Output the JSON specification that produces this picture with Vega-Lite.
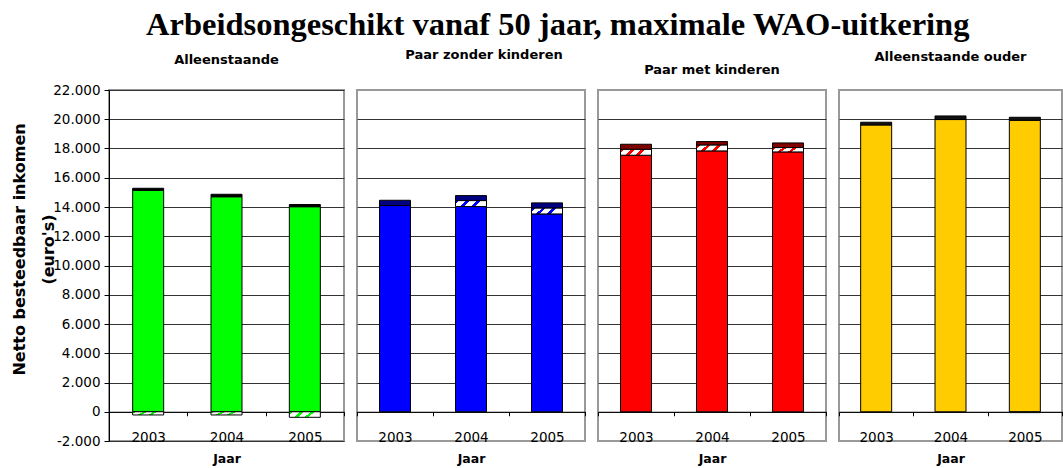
{
  "$schema": "https://vega.github.io/schema/vega-lite/v6.json",
  "background": "white",
  "padding": {"left": 10, "top": 8, "right": 0, "bottom": 0},
  "title": {"text": "Arbeidsongeschikt vanaf 50 jaar, maximale WAO-uitkering", "font": "Liberation Serif", "fontSize": 32.5, "fontWeight": "bold", "color": "#000", "anchor": "middle", "offset": 7, "dx": 21},
  "data": {"values": [
    {"panel": "Alleenstaande", "jaar": "2003", "comp": "basis", "waarde": 15140},
    {"panel": "Alleenstaande", "jaar": "2003", "comp": "rest", "waarde": 140},
    {"panel": "Alleenstaande", "jaar": "2003", "comp": "mutatie", "waarde": -220},
    {"panel": "Alleenstaande", "jaar": "2004", "comp": "basis", "waarde": 14700},
    {"panel": "Alleenstaande", "jaar": "2004", "comp": "rest", "waarde": 170},
    {"panel": "Alleenstaande", "jaar": "2004", "comp": "mutatie", "waarde": -220},
    {"panel": "Alleenstaande", "jaar": "2005", "comp": "basis", "waarde": 14020},
    {"panel": "Alleenstaande", "jaar": "2005", "comp": "rest", "waarde": 150},
    {"panel": "Alleenstaande", "jaar": "2005", "comp": "mutatie", "waarde": -380},
    {"panel": "Paar zonder kinderen", "jaar": "2003", "comp": "basis", "waarde": 14100},
    {"panel": "Paar zonder kinderen", "jaar": "2003", "comp": "rest", "waarde": 360},
    {"panel": "Paar zonder kinderen", "jaar": "2004", "comp": "basis", "waarde": 14030},
    {"panel": "Paar zonder kinderen", "jaar": "2004", "comp": "mutatie", "waarde": 410},
    {"panel": "Paar zonder kinderen", "jaar": "2004", "comp": "rest", "waarde": 340},
    {"panel": "Paar zonder kinderen", "jaar": "2005", "comp": "basis", "waarde": 13525},
    {"panel": "Paar zonder kinderen", "jaar": "2005", "comp": "mutatie", "waarde": 410},
    {"panel": "Paar zonder kinderen", "jaar": "2005", "comp": "rest", "waarde": 345},
    {"panel": "Paar met kinderen", "jaar": "2003", "comp": "basis", "waarde": 17540},
    {"panel": "Paar met kinderen", "jaar": "2003", "comp": "mutatie", "waarde": 410},
    {"panel": "Paar met kinderen", "jaar": "2003", "comp": "rest", "waarde": 340},
    {"panel": "Paar met kinderen", "jaar": "2004", "comp": "basis", "waarde": 17835},
    {"panel": "Paar met kinderen", "jaar": "2004", "comp": "mutatie", "waarde": 410},
    {"panel": "Paar met kinderen", "jaar": "2004", "comp": "rest", "waarde": 230},
    {"panel": "Paar met kinderen", "jaar": "2005", "comp": "basis", "waarde": 17765},
    {"panel": "Paar met kinderen", "jaar": "2005", "comp": "mutatie", "waarde": 300},
    {"panel": "Paar met kinderen", "jaar": "2005", "comp": "rest", "waarde": 315},
    {"panel": "Alleenstaande ouder", "jaar": "2003", "comp": "basis", "waarde": 19610},
    {"panel": "Alleenstaande ouder", "jaar": "2003", "comp": "rest", "waarde": 185},
    {"panel": "Alleenstaande ouder", "jaar": "2004", "comp": "basis", "waarde": 19980},
    {"panel": "Alleenstaande ouder", "jaar": "2004", "comp": "rest", "waarde": 245},
    {"panel": "Alleenstaande ouder", "jaar": "2005", "comp": "basis", "waarde": 19930},
    {"panel": "Alleenstaande ouder", "jaar": "2005", "comp": "rest", "waarde": 205},
    {"panel": "Alleenstaande ouder", "jaar": "2005", "comp": "mutatie", "waarde": -60}
  ]},
  "spacing": 9,
  "hconcat": [
    {
      "width": 235, "height": 351,
      "title": {"text": "Alleenstaande", "anchor": "middle", "frame": "group", "baseline": "bottom", "offset": 3},
      "transform": [{"filter": "datum.panel === 'Alleenstaande'"}],
      "mark": {"type": "bar", "size": 31, "stroke": "#000", "strokeWidth": 1},
      "encoding": {
        "x": {"field": "jaar", "type": "ordinal", "scale": {"paddingInner": 0, "paddingOuter": 0},
          "axis": {"title": "Jaar", "titleFontSize": 12.5, "labelAngle": 0, "offset": -29.25, "tickBand": "extent", "tickSize": 4, "labelPadding": 15, "titlePadding": 8}},
        "y": {"field": "waarde", "type": "quantitative", "stack": "zero", "scale": {"domain": [-2000, 22000], "nice": false, "zero": false},
          "axis": {"values": [-2000, 0, 2000, 4000, 6000, 8000, 10000, 12000, 14000, 16000, 18000, 20000, 22000],
            "labelExpr": "replace(replace(format(datum.value, ','), ',', '.'), '\u2212', '-')",
            "title": ["Netto besteedbaar inkomen", "(euro's)"], "titleFontSize": 16, "titleLineHeight": 29,
            "titleY": 159, "titleX": -90, "titleAngle": -90, "titleBaseline": "middle", "titleAlign": "center",
            "tickSize": 5, "labelPadding": 4, "grid": true}},
        "detail": {"field": "comp"},
        "order": {"field": "comp", "sort": "ascending"},
        "fill": {"condition": [
          {"test": "datum.comp === 'mutatie'", "value": {"gradient": "linear", "x1": 0, "y1": 0, "x2": 1, "y2": 0.2, "stops": [
            {"offset": 0, "color": "#00ff00"}, {"offset": 0.12, "color": "#00ff00"}, {"offset": 0.12, "color": "#fff"}, {"offset": 0.33, "color": "#fff"},
            {"offset": 0.33, "color": "#00ff00"}, {"offset": 0.45, "color": "#00ff00"}, {"offset": 0.45, "color": "#fff"}, {"offset": 0.66, "color": "#fff"},
            {"offset": 0.66, "color": "#00ff00"}, {"offset": 0.78, "color": "#00ff00"}, {"offset": 0.78, "color": "#fff"}, {"offset": 1, "color": "#fff"}]}},
          {"test": "datum.comp === 'rest'", "value": "#000"}], "value": "#00ff00"}
      }
    },
    {
      "width": 228, "height": 351,
      "title": {"text": "Paar zonder kinderen", "anchor": "middle", "frame": "group", "baseline": "bottom", "offset": 15, "dx": 13},
      "transform": [{"filter": "datum.panel === 'Paar zonder kinderen'"}],
      "mark": {"type": "bar", "size": 31, "stroke": "#000", "strokeWidth": 1},
      "encoding": {
        "x": {"field": "jaar", "type": "ordinal", "scale": {"paddingInner": 0, "paddingOuter": 0},
          "axis": {"title": "Jaar", "titleFontSize": 12.5, "labelAngle": 0, "offset": -29.25, "tickBand": "extent", "tickSize": 4, "labelPadding": 15, "titlePadding": 8}},
        "y": {"field": "waarde", "type": "quantitative", "stack": "zero", "scale": {"domain": [-2000, 22000], "nice": false, "zero": false},
          "axis": {"values": [0, 2000, 4000, 6000, 8000, 10000, 12000, 14000, 16000, 18000, 20000], "labels": false, "ticks": false, "domain": false, "title": null, "grid": true}},
        "detail": {"field": "comp"},
        "order": {"field": "comp", "sort": "ascending"},
        "fill": {"condition": [
          {"test": "datum.comp === 'mutatie'", "value": {"gradient": "linear", "x1": 0, "y1": 0, "x2": 1, "y2": 0.2, "stops": [
            {"offset": 0, "color": "#0000ff"}, {"offset": 0.12, "color": "#0000ff"}, {"offset": 0.12, "color": "#fff"}, {"offset": 0.33, "color": "#fff"},
            {"offset": 0.33, "color": "#0000ff"}, {"offset": 0.45, "color": "#0000ff"}, {"offset": 0.45, "color": "#fff"}, {"offset": 0.66, "color": "#fff"},
            {"offset": 0.66, "color": "#0000ff"}, {"offset": 0.78, "color": "#0000ff"}, {"offset": 0.78, "color": "#fff"}, {"offset": 1, "color": "#fff"}]}},
          {"test": "datum.comp === 'rest'", "value": "#000080"}], "value": "#0000ff"}
      }
    },
    {
      "width": 228, "height": 351,
      "title": {"text": "Paar met kinderen", "anchor": "middle", "frame": "group", "baseline": "bottom", "offset": 0},
      "transform": [{"filter": "datum.panel === 'Paar met kinderen'"}],
      "mark": {"type": "bar", "size": 31, "stroke": "#000", "strokeWidth": 1},
      "encoding": {
        "x": {"field": "jaar", "type": "ordinal", "scale": {"paddingInner": 0, "paddingOuter": 0},
          "axis": {"title": "Jaar", "titleFontSize": 12.5, "labelAngle": 0, "offset": -29.25, "tickBand": "extent", "tickSize": 4, "labelPadding": 15, "titlePadding": 8}},
        "y": {"field": "waarde", "type": "quantitative", "stack": "zero", "scale": {"domain": [-2000, 22000], "nice": false, "zero": false},
          "axis": {"values": [0, 2000, 4000, 6000, 8000, 10000, 12000, 14000, 16000, 18000, 20000], "labels": false, "ticks": false, "domain": false, "title": null, "grid": true}},
        "detail": {"field": "comp"},
        "order": {"field": "comp", "sort": "ascending"},
        "fill": {"condition": [
          {"test": "datum.comp === 'mutatie'", "value": {"gradient": "linear", "x1": 0, "y1": 0, "x2": 1, "y2": 0.2, "stops": [
            {"offset": 0, "color": "#ff0000"}, {"offset": 0.12, "color": "#ff0000"}, {"offset": 0.12, "color": "#fff"}, {"offset": 0.33, "color": "#fff"},
            {"offset": 0.33, "color": "#ff0000"}, {"offset": 0.45, "color": "#ff0000"}, {"offset": 0.45, "color": "#fff"}, {"offset": 0.66, "color": "#fff"},
            {"offset": 0.66, "color": "#ff0000"}, {"offset": 0.78, "color": "#ff0000"}, {"offset": 0.78, "color": "#fff"}, {"offset": 1, "color": "#fff"}]}},
          {"test": "datum.comp === 'rest'", "value": "#800000"}], "value": "#ff0000"}
      }
    },
    {
      "width": 223, "height": 351,
      "title": {"text": "Alleenstaande ouder", "anchor": "middle", "frame": "group", "baseline": "bottom", "offset": 13},
      "transform": [{"filter": "datum.panel === 'Alleenstaande ouder'"}],
      "mark": {"type": "bar", "size": 31, "stroke": "#000", "strokeWidth": 1},
      "encoding": {
        "x": {"field": "jaar", "type": "ordinal", "scale": {"paddingInner": 0, "paddingOuter": 0},
          "axis": {"title": "Jaar", "titleFontSize": 12.5, "labelAngle": 0, "offset": -29.25, "tickBand": "extent", "tickSize": 4, "labelPadding": 15, "titlePadding": 8}},
        "y": {"field": "waarde", "type": "quantitative", "stack": "zero", "scale": {"domain": [-2000, 22000], "nice": false, "zero": false},
          "axis": {"values": [0, 2000, 4000, 6000, 8000, 10000, 12000, 14000, 16000, 18000, 20000], "labels": false, "ticks": false, "domain": false, "title": null, "grid": true}},
        "detail": {"field": "comp"},
        "order": {"field": "comp", "sort": "ascending"},
        "fill": {"condition": [
          {"test": "datum.comp === 'mutatie'", "value": {"gradient": "linear", "x1": 0, "y1": 0, "x2": 1, "y2": 0.2, "stops": [
            {"offset": 0, "color": "#ffcc00"}, {"offset": 0.12, "color": "#ffcc00"}, {"offset": 0.12, "color": "#fff"}, {"offset": 0.33, "color": "#fff"},
            {"offset": 0.33, "color": "#ffcc00"}, {"offset": 0.45, "color": "#ffcc00"}, {"offset": 0.45, "color": "#fff"}, {"offset": 0.66, "color": "#fff"},
            {"offset": 0.66, "color": "#ffcc00"}, {"offset": 0.78, "color": "#ffcc00"}, {"offset": 0.78, "color": "#fff"}, {"offset": 1, "color": "#fff"}]}},
          {"test": "datum.comp === 'rest'", "value": "#111"}], "value": "#ffcc00"}
      }
    }
  ],
  "config": {
    "view": {"stroke": "#999", "strokeWidth": 2},
    "axis": {"labelFont": "DejaVu Sans", "labelFontSize": 13.5, "labelColor": "#000", "titleFont": "DejaVu Sans", "titleFontWeight": "bold", "titleColor": "#000", "domainColor": "#000", "tickColor": "#000", "gridColor": "#333", "gridWidth": 1},
    "title": {"font": "DejaVu Sans", "fontWeight": "bold", "fontSize": 13, "color": "#000"}
  }
}
